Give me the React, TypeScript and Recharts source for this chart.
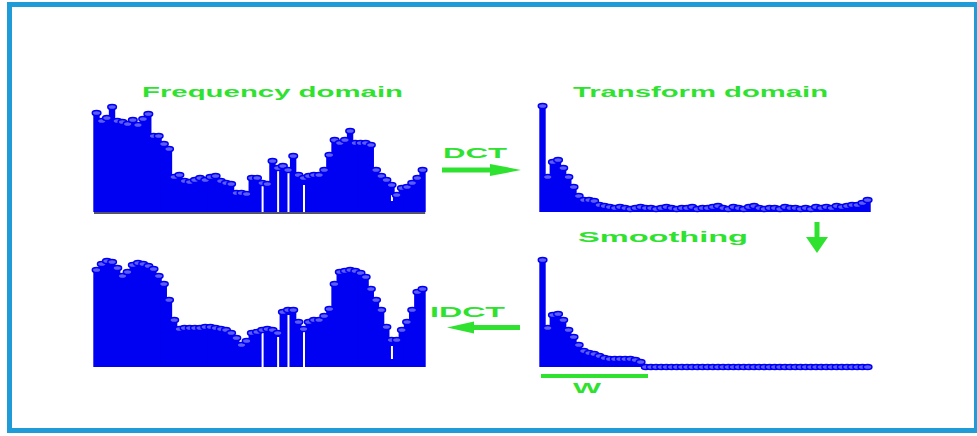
import React from "react";
import { ComposedChart, Bar, Line, XAxis, YAxis, ReferenceLine } from "recharts";

// sample index shared by all four stem plots
const sampleIndex = Array.from({ length: 64 }, (_, i) => i + 1);

// original signal (frequency domain)
const signal = [
  99, 91, 94, 105, 91, 90, 88, 92, 87, 93, 98, 76, 76, 68, 63, 35,
  37, 31, 30, 32, 34, 32, 35, 36, 31, 29, 28, 19, 19, 18, 34, 34,
  29, 28, 51, 44, 46, 42, 56, 37, 34, 36, 37, 37, 42, 57, 72, 69,
  72, 81, 69, 69, 69, 67, 42, 36, 32, 27, 17, 24, 25, 29, 34, 42,
];

// DCT coefficients (transform domain)
const dctCoeffs = [
  106, 35, 50, 52, 44, 35, 25, 16, 12, 12, 11, 7, 6, 5, 4, 5,
  4, 3, 4, 5, 4, 4, 3, 4, 5, 4, 3, 4, 4, 5, 3, 4,
  4, 5, 6, 4, 3, 5, 4, 3, 5, 6, 4, 3, 4, 4, 3, 5,
  4, 4, 3, 4, 3, 5, 4, 5, 4, 6, 5, 6, 7, 7, 9, 12,
];

// coefficients kept inside the window W, the rest set to zero
const smoothedCoeffs = [
  107, 39, 52, 53, 47, 37, 30, 22, 16, 14, 13, 11, 9, 8, 8, 8,
  8, 8, 7, 5, 0, 0, 0, 0, 0, 0, 0, 0, 0, 0, 0, 0,
  0, 0, 0, 0, 0, 0, 0, 0, 0, 0, 0, 0, 0, 0, 0, 0,
  0, 0, 0, 0, 0, 0, 0, 0, 0, 0, 0, 0, 0, 0, 0, 0,
];

// inverse DCT of the smoothed coefficients
const reconstructed = [
  97, 103, 106, 105, 99, 91, 95, 102, 104, 103, 101, 98, 91, 83, 67, 47,
  38, 39, 39, 39, 39, 40, 40, 39, 38, 37, 34, 29, 22, 26, 34, 35,
  37, 38, 37, 34, 55, 57, 57, 45, 38, 45, 47, 47, 51, 58, 83, 95,
  96, 97, 96, 94, 90, 78, 67, 57, 40, 27, 27, 37, 45, 57, 75, 78,
];

// white slits between thin stems: [index, from, to]
const signalSlits: [number, number, number][] = [
  [32, 0, 28], [35, 0, 42], [37, 0, 40], [40, 0, 27], [57, 11, 17],
];
const reconstructedSlits: [number, number, number][] = [
  [32, 0, 35], [35, 0, 30], [37, 0, 52], [40, 0, 38], [57, 8, 21],
];

const STEM = "#0000f2";
const GREEN = "#2fe22f";
const FRAME = "#1f9bd7";

type Row = { n: number; v: number; slit: [number, number] | null };

const buildRows = (values: number[], slits: [number, number, number][] = []): Row[] =>
  values.map((v, i) => {
    const s = slits.find((x) => x[0] === i);
    return { n: sampleIndex[i], v, slit: s ? [s[1], s[2]] : null };
  });

// stem drawn slightly wider than its band so neighbours merge into one block
const Stem = (props: any) => {
  const { x, y, width, height } = props;
  if (!height || height <= 0) return <g />;
  return <rect x={x - 0.7} y={y} width={width + 1.4} height={height} fill={STEM} />;
};

const Ring = (props: any) => {
  const { cx, cy, index } = props;
  if (cx == null || cy == null) return <g key={`r-${index}`} />;
  return (
    <ellipse
      key={`r-${index}`}
      cx={cx}
      cy={cy}
      rx={4.3}
      ry={2.5}
      fill="#5c5cff"
      stroke={STEM}
      strokeWidth={1.5}
    />
  );
};

interface StemPlotProps {
  data: Row[];
  plotLeft: number;
  plotTop: number;
  plotWidth: number;
  baseColor?: string;
}

const M = { top: 8, right: 8, bottom: 6, left: 8 };
const PLOT_H = 110;

const StemPlot: React.FC<StemPlotProps> = ({ data, plotLeft, plotTop, plotWidth, baseColor }) => (
  <div style={{ position: "absolute", left: plotLeft - M.left, top: plotTop - M.top }}>
    <ComposedChart
      width={plotWidth + M.left + M.right}
      height={PLOT_H + M.top + M.bottom}
      data={data}
      margin={M}
      barCategoryGap={0}
    >
      <XAxis dataKey="n" hide />
      <XAxis xAxisId="slit" dataKey="n" hide />
      <YAxis hide domain={[0, PLOT_H]} />
      {baseColor && (
        <ReferenceLine y={-1} stroke={baseColor} strokeWidth={1.6} ifOverflow="visible" />
      )}
      <Bar dataKey="v" fill={STEM} shape={Stem} isAnimationActive={false} />
      <Bar xAxisId="slit" dataKey="slit" fill="#ffffff" barSize={2} isAnimationActive={false} />
      <Line dataKey="v" stroke="none" dot={Ring} activeDot={false} isAnimationActive={false} />
    </ComposedChart>
  </div>
);

const LEFT_X = 94.4;
const LEFT_W = 331.2;
const RIGHT_X = 540.4;
const RIGHT_W = 330.2;

const Caption: React.FC<{ x: number; y: number; w: number; size: number; children: string }> = ({
  x, y, w, size, children,
}) => (
  <text
    x={x}
    y={y}
    textLength={w}
    lengthAdjust="spacingAndGlyphs"
    fontSize={size}
    fontWeight="bold"
    fill={GREEN}
  >
    {children}
  </text>
);

export default function App() {
  return (
    <div
      style={{
        position: "fixed",
        left: 0,
        top: 0,
        width: 977,
        height: 436,
        background: "#ffffff",
        overflow: "hidden",
        fontFamily: "'Liberation Sans', Arial, sans-serif",
      }}
    >
      <div
        style={{
          position: "absolute",
          left: 7,
          top: 2,
          width: 972,
          height: 431,
          boxSizing: "border-box",
          border: `5px solid ${FRAME}`,
        }}
      />

      <StemPlot data={buildRows(signal, signalSlits)} plotLeft={LEFT_X} plotTop={102} plotWidth={LEFT_W} baseColor="#1a1a3a" />
      <StemPlot data={buildRows(dctCoeffs)} plotLeft={RIGHT_X} plotTop={102} plotWidth={RIGHT_W} />
      <StemPlot data={buildRows(reconstructed, reconstructedSlits)} plotLeft={LEFT_X} plotTop={257} plotWidth={LEFT_W} />
      <StemPlot data={buildRows(smoothedCoeffs)} plotLeft={RIGHT_X} plotTop={257} plotWidth={RIGHT_W} />

      <svg
        width={977}
        height={436}
        style={{ position: "absolute", left: 0, top: 0, pointerEvents: "none" }}
        fontFamily="'Liberation Sans', Arial, sans-serif"
      >
        <Caption x={142} y={97} w={261} size={14}>Frequency domain</Caption>
        <Caption x={573} y={97} w={255} size={14}>Transform domain</Caption>
        <Caption x={443} y={158} w={64} size={14}>DCT</Caption>
        <Caption x={578} y={242} w={170} size={15}>Smoothing</Caption>
        <Caption x={430} y={317} w={75} size={15}>IDCT</Caption>
        <Caption x={573} y={393} w={28} size={15}>W</Caption>

        {/* DCT arrow */}
        <rect x={442} y={167.5} width={50} height={5} fill={GREEN} />
        <polygon points="490,164 521,170 490,176" fill={GREEN} />
        {/* smoothing arrow */}
        <rect x={814.5} y={222} width={5} height={16} fill={GREEN} />
        <polygon points="806,237 828,237 817,253" fill={GREEN} />
        {/* IDCT arrow */}
        <rect x={472} y={325} width={48} height={5} fill={GREEN} />
        <polygon points="447,327.5 474,321.5 474,333.5" fill={GREEN} />
        {/* window W */}
        <rect x={541} y={374} width={107} height={4} fill={GREEN} />
      </svg>
    </div>
  );
}
